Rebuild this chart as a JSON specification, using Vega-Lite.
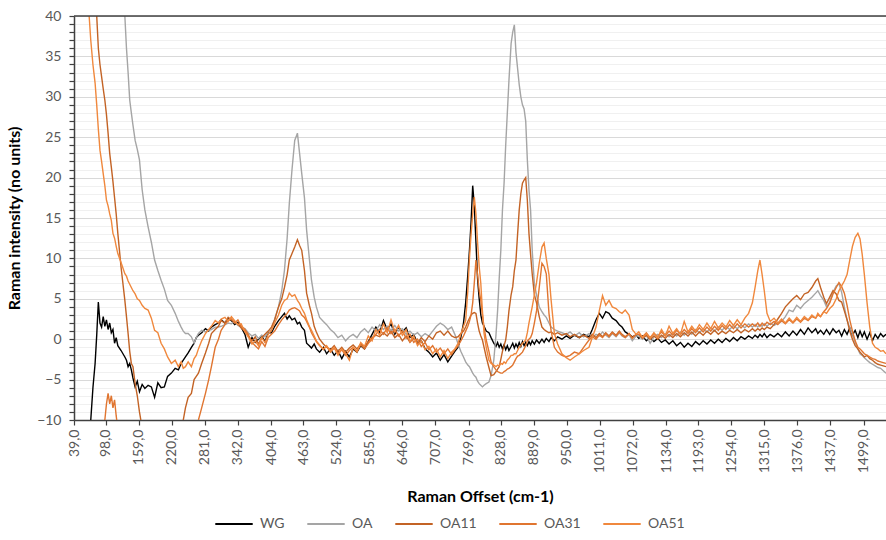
{
  "$schema": "https://vega.github.io/schema/vega-lite/v6.json",
  "width": 812,
  "height": 404,
  "autosize": {"type": "none"},
  "padding": {"left": 74, "top": 16, "right": 0, "bottom": 120},
  "background": "white",
  "config": {"font": "Lato", "view": {"stroke": null}, "axis": {"labelOverlap": false}},
  "resolve": {"axis": {"y": "independent"}},
  "layer": [
    {
      "data": {"values": [
{"x":39,"WG":-15,"OA":80,"OA11":60,"OA31":-15,"OA51":55},
{"x":50,"WG":-15,"OA":78,"OA11":58,"OA31":-15,"OA51":50},
{"x":60,"WG":-15,"OA":75,"OA11":55,"OA31":-15,"OA51":45},
{"x":66,"WG":-14,"OA":72,"OA11":52,"OA31":-14,"OA51":41},
{"x":70,"WG":-10,"OA":70,"OA11":48,"OA31":-13,"OA51":37},
{"x":74,"WG":-6,"OA":68,"OA11":45,"OA31":-13,"OA51":34},
{"x":78,"WG":-3,"OA":66,"OA11":42,"OA31":-13,"OA51":31.7},
{"x":81,"WG":0.5,"OA":64,"OA11":40,"OA31":-12,"OA51":29},
{"x":84,"WG":4.6,"OA":62,"OA11":36,"OA31":-12,"OA51":26},
{"x":87,"WG":2,"OA":61,"OA11":34,"OA31":-13,"OA51":23.4},
{"x":90,"WG":1.5,"OA":60,"OA11":32.5,"OA31":-12,"OA51":22},
{"x":93,"WG":2.8,"OA":59,"OA11":31,"OA31":-11,"OA51":20.5},
{"x":96,"WG":1.6,"OA":58,"OA11":29.6,"OA31":-10,"OA51":19},
{"x":99,"WG":2.4,"OA":57,"OA11":27.8,"OA31":-8,"OA51":17.2},
{"x":102,"WG":1.2,"OA":56,"OA11":25.5,"OA31":-6.7,"OA51":16.5},
{"x":105,"WG":2.0,"OA":55,"OA11":23,"OA31":-8,"OA51":15.5},
{"x":108,"WG":0.8,"OA":54,"OA11":21.3,"OA31":-7,"OA51":14.7},
{"x":111,"WG":1.2,"OA":53,"OA11":19.5,"OA31":-8.5,"OA51":13.1},
{"x":114,"WG":-0.5,"OA":52,"OA11":17.5,"OA31":-7.5,"OA51":12.5},
{"x":117,"WG":0.2,"OA":51,"OA11":15.5,"OA31":-9.5,"OA51":11.5},
{"x":120,"WG":-0.8,"OA":50,"OA11":13.1,"OA31":-11,"OA51":10.6},
{"x":126,"WG":-1.4,"OA":45,"OA11":8.9,"OA31":-14,"OA51":9.5},
{"x":133,"WG":-2.2,"OA":40,"OA11":4.8,"OA31":-14,"OA51":8.1},
{"x":136,"WG":-2.6,"OA":36,"OA11":2.8,"OA31":-14,"OA51":7.8},
{"x":139,"WG":-3.4,"OA":33,"OA11":0.7,"OA31":-14,"OA51":7.2},
{"x":142,"WG":-3,"OA":29.6,"OA11":-1.5,"OA31":-14,"OA51":6.8},
{"x":145,"WG":-3.8,"OA":28,"OA11":-3.0,"OA31":-14,"OA51":6.4},
{"x":148,"WG":-4.8,"OA":26.5,"OA11":-3.4,"OA31":-14,"OA51":6.0},
{"x":152,"WG":-5.9,"OA":24.6,"OA11":-5.5,"OA31":-14,"OA51":5.6},
{"x":156,"WG":-5.2,"OA":23.5,"OA11":-7,"OA31":-14,"OA51":5.0},
{"x":160,"WG":-6.5,"OA":22.2,"OA11":-9,"OA31":-14,"OA51":4.8},
{"x":165,"WG":-5.6,"OA":18.5,"OA11":-11,"OA31":-14,"OA51":4.2},
{"x":170,"WG":-6.1,"OA":16,"OA11":-13,"OA31":-14,"OA51":3.8},
{"x":176,"WG":-5.7,"OA":13.9,"OA11":-14,"OA31":-14,"OA51":3.6},
{"x":182,"WG":-5.9,"OA":12,"OA11":-14,"OA31":-14,"OA51":2.6},
{"x":188,"WG":-7.2,"OA":9.8,"OA11":-14,"OA31":-14,"OA51":1.1},
{"x":194,"WG":-5.4,"OA":8.5,"OA11":-14,"OA31":-14,"OA51":0.8},
{"x":200,"WG":-6.0,"OA":7.3,"OA11":-14,"OA31":-14,"OA51":-0.5},
{"x":206,"WG":-5.9,"OA":6.2,"OA11":-14,"OA31":-14,"OA51":-1.2},
{"x":212,"WG":-4.6,"OA":4.8,"OA11":-14,"OA31":-14,"OA51":-2.2},
{"x":219,"WG":-4.2,"OA":4.2,"OA11":-14,"OA31":-14,"OA51":-3.0},
{"x":226,"WG":-3.6,"OA":3.2,"OA11":-14,"OA31":-14,"OA51":-2.6},
{"x":232,"WG":-3.8,"OA":2.2,"OA11":-14,"OA31":-14,"OA51":-3.4},
{"x":237,"WG":-3.0,"OA":1.5,"OA11":-13,"OA31":-14,"OA51":-2.8},
{"x":241,"WG":-2.6,"OA":1.0,"OA11":-10,"OA31":-14,"OA51":-3.6},
{"x":245,"WG":-2.2,"OA":0.7,"OA11":-8.5,"OA31":-14,"OA51":-3.4},
{"x":250,"WG":-1.7,"OA":0.7,"OA11":-7.2,"OA31":-13,"OA51":-2.8},
{"x":256,"WG":-1.0,"OA":0.3,"OA11":-6.7,"OA31":-12,"OA51":-3.4},
{"x":261,"WG":-0.5,"OA":-0.5,"OA11":-5.0,"OA31":-11,"OA51":-2.4},
{"x":265,"WG":0.2,"OA":0.2,"OA11":-4.6,"OA31":-10.5,"OA51":-2.0},
{"x":269,"WG":0.5,"OA":0.7,"OA11":-4.2,"OA31":-10,"OA51":-1.2},
{"x":275,"WG":0.8,"OA":1.1,"OA11":-3.0,"OA31":-8.5,"OA51":-0.2},
{"x":282,"WG":1.3,"OA":0.9,"OA11":-1.7,"OA31":-6.7,"OA51":0.7},
{"x":288,"WG":1.0,"OA":1.1,"OA11":-0.5,"OA31":-5.0,"OA51":1.2},
{"x":293,"WG":1.5,"OA":1.2,"OA11":0.7,"OA31":-3.4,"OA51":1.6},
{"x":300,"WG":1.8,"OA":1.5,"OA11":1.2,"OA31":-1.0,"OA51":2.3},
{"x":306,"WG":2.0,"OA":1.5,"OA11":1.6,"OA31":0.0,"OA51":2.0},
{"x":311,"WG":2.4,"OA":1.6,"OA11":2.3,"OA31":1.1,"OA51":2.5},
{"x":318,"WG":2.0,"OA":1.8,"OA11":2.0,"OA31":1.8,"OA51":2.7},
{"x":324,"WG":2.6,"OA":2.0,"OA11":2.7,"OA31":2.3,"OA51":2.2},
{"x":330,"WG":2.3,"OA":1.9,"OA11":2.4,"OA31":2.5,"OA51":2.8},
{"x":336,"WG":1.8,"OA":2.2,"OA11":2.1,"OA31":2.0,"OA51":2.3},
{"x":342,"WG":2.1,"OA":1.7,"OA11":1.9,"OA31":2.4,"OA51":1.8},
{"x":348,"WG":1.5,"OA":1.5,"OA11":1.4,"OA31":1.6,"OA51":1.9},
{"x":355,"WG":0.6,"OA":1.3,"OA11":1.0,"OA31":1.2,"OA51":0.9},
{"x":361,"WG":-1.0,"OA":0.8,"OA11":0.4,"OA31":0.6,"OA51":0.3},
{"x":368,"WG":0.2,"OA":0.4,"OA11":-0.2,"OA31":-0.4,"OA51":-0.6},
{"x":374,"WG":-0.4,"OA":0.6,"OA11":0.3,"OA31":-0.8,"OA51":-0.2},
{"x":380,"WG":0.0,"OA":0.1,"OA11":-0.6,"OA31":-1.2,"OA51":-0.8},
{"x":386,"WG":0.4,"OA":0.5,"OA11":0.2,"OA31":-0.3,"OA51":0.2},
{"x":392,"WG":-0.3,"OA":0.3,"OA11":0.6,"OA31":-0.9,"OA51":-0.4},
{"x":398,"WG":0.8,"OA":0.9,"OA11":1.0,"OA31":0.2,"OA51":0.6},
{"x":404,"WG":0.8,"OA":1.2,"OA11":1.5,"OA31":0.6,"OA51":1.1},
{"x":410,"WG":1.6,"OA":2.5,"OA11":2.4,"OA31":1.0,"OA51":2.0},
{"x":417,"WG":2.3,"OA":4.0,"OA11":4.0,"OA31":1.8,"OA51":3.0},
{"x":423,"WG":2.8,"OA":6.0,"OA11":5.0,"OA31":2.4,"OA51":4.2},
{"x":428,"WG":3.2,"OA":8.5,"OA11":6.4,"OA31":2.8,"OA51":4.8},
{"x":433,"WG":2.5,"OA":12.5,"OA11":8.0,"OA31":3.2,"OA51":5.0},
{"x":437,"WG":2.9,"OA":16.8,"OA11":9.8,"OA31":3.6,"OA51":5.7},
{"x":442,"WG":2.4,"OA":21,"OA11":10.6,"OA31":3.8,"OA51":5.3},
{"x":447,"WG":2.6,"OA":24.6,"OA11":11.4,"OA31":3.9,"OA51":5.5},
{"x":452,"WG":1.9,"OA":25.5,"OA11":12.3,"OA31":3.7,"OA51":4.8},
{"x":456,"WG":2.1,"OA":23,"OA11":11.6,"OA31":3.5,"OA51":4.4},
{"x":460,"WG":1.5,"OA":20.5,"OA11":11.0,"OA31":3.0,"OA51":3.8},
{"x":465,"WG":1.1,"OA":17.5,"OA11":8.5,"OA31":2.7,"OA51":3.2},
{"x":469,"WG":-0.5,"OA":13.5,"OA11":5.7,"OA31":2.2,"OA51":2.4},
{"x":474,"WG":-0.8,"OA":10,"OA11":4.2,"OA31":1.5,"OA51":1.6},
{"x":478,"WG":-1.1,"OA":7.3,"OA11":3.2,"OA31":0.8,"OA51":1.1},
{"x":483,"WG":-0.6,"OA":5.2,"OA11":1.6,"OA31":0.2,"OA51":0.4},
{"x":487,"WG":-1.2,"OA":4.0,"OA11":0.9,"OA31":-0.3,"OA51":-0.2},
{"x":493,"WG":-1.6,"OA":2.7,"OA11":0.0,"OA31":-0.8,"OA51":-0.7},
{"x":500,"WG":-1.0,"OA":2.2,"OA11":-0.6,"OA31":-1.2,"OA51":-1.3},
{"x":506,"WG":-1.8,"OA":1.8,"OA11":-1.0,"OA31":-0.9,"OA51":-0.8},
{"x":513,"WG":-1.2,"OA":1.2,"OA11":-1.3,"OA31":-1.6,"OA51":-1.5},
{"x":520,"WG":-2.0,"OA":0.8,"OA11":-0.8,"OA31":-1.1,"OA51":-1.0},
{"x":527,"WG":-1.4,"OA":0.2,"OA11":-1.5,"OA31":-1.8,"OA51":-2.0},
{"x":534,"WG":-2.4,"OA":0.5,"OA11":-1.0,"OA31":-1.3,"OA51":-1.2},
{"x":541,"WG":-1.5,"OA":-0.2,"OA11":-1.6,"OA31":-2.0,"OA51":-1.8},
{"x":548,"WG":-2.2,"OA":0.3,"OA11":-1.1,"OA31":-1.4,"OA51":-2.6},
{"x":555,"WG":-1.2,"OA":0.6,"OA11":-0.7,"OA31":-1.0,"OA51":-1.0},
{"x":562,"WG":-1.6,"OA":0.2,"OA11":-1.2,"OA31":-1.5,"OA51":-1.6},
{"x":569,"WG":-0.8,"OA":0.9,"OA11":-0.6,"OA31":-0.7,"OA51":-0.4},
{"x":576,"WG":-1.2,"OA":1.3,"OA11":-0.9,"OA31":-1.2,"OA51":-0.9},
{"x":583,"WG":-0.3,"OA":0.8,"OA11":-0.3,"OA31":-0.5,"OA51":0.4},
{"x":590,"WG":0.6,"OA":1.5,"OA11":0.2,"OA31":0.0,"OA51":-0.2},
{"x":597,"WG":1.5,"OA":1.0,"OA11":0.5,"OA31":0.6,"OA51":1.2},
{"x":604,"WG":0.8,"OA":1.8,"OA11":0.3,"OA31":1.2,"OA51":0.5},
{"x":611,"WG":2.3,"OA":1.2,"OA11":0.8,"OA31":0.6,"OA51":1.9},
{"x":618,"WG":1.2,"OA":1.6,"OA11":0.4,"OA31":1.4,"OA51":0.8},
{"x":625,"WG":1.9,"OA":1.1,"OA11":1.0,"OA31":0.7,"OA51":2.4},
{"x":632,"WG":0.6,"OA":1.7,"OA11":0.2,"OA31":1.2,"OA51":0.9},
{"x":639,"WG":1.5,"OA":1.0,"OA11":0.6,"OA31":0.4,"OA51":1.7},
{"x":646,"WG":0.9,"OA":1.3,"OA11":-0.2,"OA31":1.0,"OA51":0.5},
{"x":653,"WG":1.4,"OA":0.6,"OA11":0.4,"OA31":0.1,"OA51":1.2},
{"x":660,"WG":0.2,"OA":1.0,"OA11":-0.4,"OA31":0.6,"OA51":-0.3},
{"x":667,"WG":0.6,"OA":0.5,"OA11":0.1,"OA31":-0.4,"OA51":0.4},
{"x":674,"WG":-0.5,"OA":0.8,"OA11":-0.5,"OA31":0.0,"OA51":-0.8},
{"x":681,"WG":-0.2,"OA":0.3,"OA11":0.2,"OA31":-0.9,"OA51":-0.2},
{"x":688,"WG":-1.2,"OA":0.7,"OA11":-0.3,"OA31":-0.4,"OA51":-1.3},
{"x":695,"WG":-1.6,"OA":0.4,"OA11":0.4,"OA31":-1.3,"OA51":-0.9},
{"x":702,"WG":-2.2,"OA":1.0,"OA11":0.0,"OA31":-0.8,"OA51":-1.8},
{"x":709,"WG":-1.7,"OA":1.6,"OA11":0.8,"OA31":-1.6,"OA51":-1.2},
{"x":716,"WG":-2.6,"OA":2.0,"OA11":1.0,"OA31":-1.1,"OA51":-2.2},
{"x":723,"WG":-1.9,"OA":1.7,"OA11":0.5,"OA31":-1.8,"OA51":-1.4},
{"x":730,"WG":-2.8,"OA":1.2,"OA11":1.0,"OA31":-1.2,"OA51":-2.4},
{"x":737,"WG":-2.1,"OA":1.5,"OA11":0.4,"OA31":-1.9,"OA51":-1.6},
{"x":743,"WG":-1.5,"OA":0.6,"OA11":0.2,"OA31":-1.3,"OA51":-1.2},
{"x":749,"WG":-1.0,"OA":-0.6,"OA11":0.3,"OA31":-0.8,"OA51":-0.5},
{"x":754,"WG":0.2,"OA":-1.5,"OA11":0.7,"OA31":-0.2,"OA51":0.6},
{"x":759,"WG":2.0,"OA":-2.2,"OA11":1.0,"OA31":0.4,"OA51":1.6},
{"x":763,"WG":4.5,"OA":-2.8,"OA11":1.5,"OA31":1.0,"OA51":2.3},
{"x":767,"WG":8.0,"OA":-3.2,"OA11":2.2,"OA31":1.6,"OA51":6.0},
{"x":770,"WG":11.0,"OA":-3.4,"OA11":2.6,"OA31":2.2,"OA51":10.0},
{"x":773,"WG":14.5,"OA":-3.8,"OA11":3.0,"OA31":3.0,"OA51":13.0},
{"x":776,"WG":19.0,"OA":-4.2,"OA11":3.2,"OA31":4.5,"OA51":15.5},
{"x":779,"WG":16.5,"OA":-4.5,"OA11":3.3,"OA31":7.0,"OA51":17.6},
{"x":782,"WG":12.0,"OA":-4.7,"OA11":3.2,"OA31":9.8,"OA51":15.5},
{"x":785,"WG":7.5,"OA":-5.2,"OA11":2.0,"OA31":8.0,"OA51":12.0},
{"x":788,"WG":5.0,"OA":-5.5,"OA11":1.0,"OA31":6.0,"OA51":9.0},
{"x":791,"WG":3.0,"OA":-5.7,"OA11":0.4,"OA31":4.8,"OA51":6.9},
{"x":794,"WG":2.0,"OA":-5.9,"OA11":-0.1,"OA31":3.0,"OA51":3.5},
{"x":797,"WG":1.6,"OA":-5.7,"OA11":-1.0,"OA31":1.5,"OA51":0.7},
{"x":801,"WG":1.0,"OA":-5.5,"OA11":-2.2,"OA31":-0.1,"OA51":-1.0},
{"x":806,"WG":0.8,"OA":-5.3,"OA11":-3.5,"OA31":-1.5,"OA51":-2.6},
{"x":810,"WG":0.2,"OA":-4.5,"OA11":-4.5,"OA31":-2.8,"OA51":-3.0},
{"x":815,"WG":-0.5,"OA":-2.6,"OA11":-4.4,"OA31":-3.4,"OA51":-3.2},
{"x":819,"WG":-0.9,"OA":0.5,"OA11":-4.0,"OA31":-3.8,"OA51":-3.4},
{"x":822,"WG":-0.4,"OA":3.5,"OA11":-3.7,"OA31":-4.0,"OA51":-3.2},
{"x":825,"WG":-1.0,"OA":7.5,"OA11":-3.4,"OA31":-4.1,"OA51":-3.3},
{"x":828,"WG":-0.6,"OA":11,"OA11":-2.5,"OA31":-4.2,"OA51":-3.0},
{"x":831,"WG":-1.2,"OA":16,"OA11":-1.5,"OA31":-4.2,"OA51":-3.1},
{"x":834,"WG":-0.7,"OA":19.3,"OA11":-0.8,"OA31":-4.0,"OA51":-2.8},
{"x":837,"WG":-1.3,"OA":24,"OA11":-0.1,"OA31":-3.9,"OA51":-3.0},
{"x":840,"WG":-0.8,"OA":28,"OA11":1.5,"OA31":-3.7,"OA51":-2.6},
{"x":843,"WG":-1.4,"OA":32,"OA11":3.5,"OA31":-3.6,"OA51":-2.4},
{"x":847,"WG":-0.9,"OA":36.6,"OA11":5.5,"OA31":-3.4,"OA51":-2.0},
{"x":850,"WG":-0.5,"OA":38,"OA11":6.5,"OA31":-3.2,"OA51":-2.0},
{"x":853,"WG":-1.1,"OA":38.9,"OA11":8.5,"OA31":-2.8,"OA51":-1.8},
{"x":856,"WG":-0.6,"OA":35.5,"OA11":9.8,"OA31":-2.4,"OA51":-1.8},
{"x":859,"WG":-1.0,"OA":33.5,"OA11":13,"OA31":-2.1,"OA51":-1.4},
{"x":862,"WG":-0.4,"OA":31.5,"OA11":16,"OA31":-2.0,"OA51":-1.0},
{"x":865,"WG":-0.9,"OA":30,"OA11":18,"OA31":-1.8,"OA51":-0.8},
{"x":868,"WG":-0.3,"OA":29,"OA11":19.3,"OA31":-1.6,"OA51":-0.5},
{"x":871,"WG":-0.8,"OA":28.5,"OA11":19.7,"OA31":-1.2,"OA51":-0.3},
{"x":874,"WG":-0.4,"OA":27,"OA11":20,"OA31":-0.8,"OA51":-0.1},
{"x":877,"WG":-0.8,"OA":22.2,"OA11":17.2,"OA31":-0.2,"OA51":0.8},
{"x":880,"WG":-0.3,"OA":18.5,"OA11":13.1,"OA31":0.0,"OA51":2.0},
{"x":883,"WG":-0.7,"OA":16,"OA11":10.5,"OA31":0.2,"OA51":3.0},
{"x":886,"WG":-0.2,"OA":11,"OA11":8.1,"OA31":0.7,"OA51":4.0},
{"x":890,"WG":-0.6,"OA":6.9,"OA11":5.5,"OA31":2.0,"OA51":5.5},
{"x":894,"WG":-0.1,"OA":5.5,"OA11":4.5,"OA31":3.5,"OA51":7.0},
{"x":899,"WG":-0.5,"OA":4.0,"OA11":2.8,"OA31":6.4,"OA51":9.4},
{"x":904,"WG":0.0,"OA":3.4,"OA11":1.5,"OA31":9.4,"OA51":11.4},
{"x":908,"WG":-0.4,"OA":3.0,"OA11":1.2,"OA31":9.0,"OA51":11.9},
{"x":912,"WG":0.1,"OA":2.7,"OA11":1.0,"OA31":8.1,"OA51":10.0},
{"x":917,"WG":-0.3,"OA":2.0,"OA11":0.8,"OA31":3.2,"OA51":8.0},
{"x":921,"WG":0.2,"OA":1.5,"OA11":0.9,"OA31":1.0,"OA51":4.8},
{"x":927,"WG":-0.2,"OA":1.2,"OA11":0.6,"OA31":-1.0,"OA51":0.7},
{"x":933,"WG":0.3,"OA":1.0,"OA11":0.8,"OA31":-1.6,"OA51":-0.6},
{"x":941,"WG":0.0,"OA":0.8,"OA11":0.5,"OA31":-2.0,"OA51":-1.8},
{"x":949,"WG":0.4,"OA":0.6,"OA11":0.7,"OA31":-2.2,"OA51":-2.3},
{"x":956,"WG":0.1,"OA":0.9,"OA11":0.3,"OA31":-2.0,"OA51":-2.6},
{"x":964,"WG":0.5,"OA":0.4,"OA11":0.6,"OA31":-1.6,"OA51":-2.2},
{"x":973,"WG":0.2,"OA":0.8,"OA11":0.2,"OA31":-1.8,"OA51":-1.8},
{"x":981,"WG":0.6,"OA":0.3,"OA11":0.5,"OA31":-1.0,"OA51":-1.4},
{"x":991,"WG":0.3,"OA":0.7,"OA11":0.1,"OA31":-0.1,"OA51":-1.0},
{"x":997,"WG":1.2,"OA":0.2,"OA11":0.6,"OA31":0.3,"OA51":0.2},
{"x":1004,"WG":2.4,"OA":0.6,"OA11":0.2,"OA31":0.0,"OA51":1.5},
{"x":1010,"WG":3.2,"OA":0.4,"OA11":0.7,"OA31":0.5,"OA51":3.5},
{"x":1016,"WG":2.6,"OA":0.9,"OA11":0.3,"OA31":0.2,"OA51":5.4},
{"x":1022,"WG":3.4,"OA":0.5,"OA11":0.8,"OA31":0.7,"OA51":4.2},
{"x":1028,"WG":3.2,"OA":0.2,"OA11":0.4,"OA31":0.3,"OA51":4.8},
{"x":1034,"WG":2.6,"OA":0.7,"OA11":0.9,"OA31":0.8,"OA51":4.0},
{"x":1041,"WG":2.3,"OA":0.3,"OA11":0.5,"OA31":0.4,"OA51":3.8},
{"x":1047,"WG":1.8,"OA":0.8,"OA11":1.0,"OA31":0.9,"OA51":3.4},
{"x":1052,"WG":1.5,"OA":0.4,"OA11":0.6,"OA31":0.5,"OA51":3.2},
{"x":1058,"WG":0.9,"OA":0.2,"OA11":0.3,"OA31":0.2,"OA51":3.6},
{"x":1065,"WG":0.6,"OA":0.6,"OA11":0.7,"OA31":0.7,"OA51":3.0},
{"x":1071,"WG":0.3,"OA":-0.2,"OA11":0.2,"OA31":0.1,"OA51":1.2},
{"x":1078,"WG":0.5,"OA":0.4,"OA11":0.6,"OA31":0.6,"OA51":0.6},
{"x":1083,"WG":0.1,"OA":0.4,"OA11":0.6,"OA31":0.6,"OA51":0.9},
{"x":1090,"WG":0.4,"OA":0.0,"OA11":0.1,"OA31":0.3,"OA51":0.2},
{"x":1097,"WG":-0.2,"OA":0.5,"OA11":0.5,"OA31":0.8,"OA51":0.7},
{"x":1104,"WG":0.2,"OA":-0.5,"OA11":0.0,"OA31":0.2,"OA51":0.1},
{"x":1111,"WG":-0.3,"OA":0.3,"OA11":0.4,"OA31":0.7,"OA51":0.8},
{"x":1118,"WG":0.1,"OA":0.6,"OA11":0.0,"OA31":0.3,"OA51":0.2},
{"x":1125,"WG":-0.4,"OA":0.2,"OA11":0.5,"OA31":0.9,"OA51":1.2},
{"x":1132,"WG":-0.1,"OA":0.7,"OA11":0.1,"OA31":0.4,"OA51":0.4},
{"x":1139,"WG":-0.6,"OA":0.3,"OA11":0.6,"OA31":1.0,"OA51":1.6},
{"x":1146,"WG":-0.2,"OA":0.8,"OA11":0.2,"OA31":0.5,"OA51":0.7},
{"x":1153,"WG":-0.8,"OA":0.4,"OA11":0.7,"OA31":1.1,"OA51":1.3},
{"x":1160,"WG":-0.4,"OA":0.9,"OA11":0.3,"OA31":0.6,"OA51":0.6},
{"x":1167,"WG":-1.0,"OA":0.5,"OA11":0.8,"OA31":1.2,"OA51":2.2},
{"x":1174,"WG":-0.5,"OA":1.0,"OA11":0.4,"OA31":0.7,"OA51":0.9},
{"x":1181,"WG":-0.9,"OA":0.6,"OA11":0.9,"OA31":1.3,"OA51":1.6},
{"x":1188,"WG":-0.3,"OA":1.2,"OA11":0.4,"OA31":0.8,"OA51":1.0},
{"x":1195,"WG":-0.7,"OA":0.8,"OA11":0.9,"OA31":1.4,"OA51":1.8},
{"x":1202,"WG":-0.2,"OA":1.3,"OA11":0.5,"OA31":0.9,"OA51":1.2},
{"x":1209,"WG":-0.6,"OA":0.9,"OA11":1.0,"OA31":1.5,"OA51":2.0},
{"x":1216,"WG":-0.1,"OA":1.4,"OA11":0.6,"OA31":1.0,"OA51":1.3},
{"x":1223,"WG":-0.5,"OA":1.0,"OA11":1.1,"OA31":1.6,"OA51":2.2},
{"x":1230,"WG":0.0,"OA":1.5,"OA11":0.6,"OA31":1.1,"OA51":1.4},
{"x":1237,"WG":-0.4,"OA":1.1,"OA11":1.0,"OA31":1.7,"OA51":2.0},
{"x":1244,"WG":0.1,"OA":1.6,"OA11":0.7,"OA31":1.2,"OA51":1.5},
{"x":1251,"WG":-0.3,"OA":1.2,"OA11":1.1,"OA31":1.8,"OA51":2.3},
{"x":1258,"WG":0.2,"OA":1.7,"OA11":0.8,"OA31":1.3,"OA51":1.7},
{"x":1265,"WG":-0.2,"OA":1.3,"OA11":1.2,"OA31":1.9,"OA51":2.4},
{"x":1272,"WG":0.3,"OA":1.8,"OA11":0.8,"OA31":1.4,"OA51":1.8},
{"x":1279,"WG":0.0,"OA":1.4,"OA11":1.2,"OA31":1.9,"OA51":2.6},
{"x":1286,"WG":0.4,"OA":1.9,"OA11":0.9,"OA31":1.5,"OA51":3.2},
{"x":1293,"WG":0.1,"OA":1.5,"OA11":1.3,"OA31":1.9,"OA51":4.5},
{"x":1298,"WG":0.5,"OA":1.8,"OA11":1.0,"OA31":1.6,"OA51":6.4},
{"x":1303,"WG":0.2,"OA":1.5,"OA11":1.3,"OA31":2.0,"OA51":8.5},
{"x":1307,"WG":0.6,"OA":1.8,"OA11":1.1,"OA31":1.6,"OA51":9.8},
{"x":1311,"WG":0.3,"OA":1.6,"OA11":1.4,"OA31":2.0,"OA51":8.0},
{"x":1315,"WG":0.7,"OA":1.9,"OA11":1.2,"OA31":1.7,"OA51":6.0},
{"x":1320,"WG":0.2,"OA":1.6,"OA11":1.5,"OA31":2.1,"OA51":3.2},
{"x":1326,"WG":0.6,"OA":2.0,"OA11":1.3,"OA31":1.8,"OA51":2.2},
{"x":1333,"WG":0.3,"OA":1.7,"OA11":1.8,"OA31":2.2,"OA51":2.6},
{"x":1340,"WG":0.7,"OA":2.0,"OA11":2.5,"OA31":1.8,"OA51":2.0},
{"x":1347,"WG":0.3,"OA":2.2,"OA11":3.2,"OA31":2.3,"OA51":2.5},
{"x":1354,"WG":0.9,"OA":2.8,"OA11":4.0,"OA31":1.9,"OA51":2.0},
{"x":1361,"WG":0.4,"OA":3.6,"OA11":4.5,"OA31":2.4,"OA51":2.6},
{"x":1368,"WG":1.0,"OA":3.4,"OA11":5.0,"OA31":2.0,"OA51":2.1},
{"x":1375,"WG":0.5,"OA":4.2,"OA11":5.4,"OA31":2.5,"OA51":2.7},
{"x":1382,"WG":1.2,"OA":3.8,"OA11":4.9,"OA31":2.1,"OA51":2.2},
{"x":1389,"WG":0.6,"OA":4.4,"OA11":5.6,"OA31":2.6,"OA51":2.8},
{"x":1396,"WG":1.4,"OA":4.8,"OA11":5.8,"OA31":2.3,"OA51":2.4},
{"x":1403,"WG":0.8,"OA":5.2,"OA11":6.4,"OA31":2.8,"OA51":3.0},
{"x":1410,"WG":1.3,"OA":5.7,"OA11":7.2,"OA31":2.6,"OA51":2.6},
{"x":1414,"WG":0.7,"OA":6.0,"OA11":7.5,"OA31":3.0,"OA51":3.2},
{"x":1419,"WG":1.1,"OA":5.4,"OA11":6.4,"OA31":2.8,"OA51":2.8},
{"x":1425,"WG":0.6,"OA":4.8,"OA11":5.2,"OA31":3.4,"OA51":3.4},
{"x":1430,"WG":1.2,"OA":4.0,"OA11":4.4,"OA31":3.8,"OA51":3.2},
{"x":1436,"WG":0.6,"OA":4.6,"OA11":5.2,"OA31":4.5,"OA51":3.8},
{"x":1442,"WG":1.3,"OA":5.8,"OA11":6.0,"OA31":5.6,"OA51":4.2},
{"x":1448,"WG":0.8,"OA":6.6,"OA11":5.6,"OA31":6.4,"OA51":5.0},
{"x":1453,"WG":1.1,"OA":6.9,"OA11":4.8,"OA31":7.0,"OA51":6.0},
{"x":1458,"WG":0.4,"OA":5.8,"OA11":4.6,"OA31":6.5,"OA51":6.6},
{"x":1463,"WG":1.2,"OA":4.0,"OA11":3.5,"OA31":5.7,"OA51":7.2},
{"x":1468,"WG":0.6,"OA":2.4,"OA11":2.4,"OA31":4.2,"OA51":8.0},
{"x":1473,"WG":1.4,"OA":1.4,"OA11":1.0,"OA31":2.4,"OA51":9.8},
{"x":1478,"WG":0.5,"OA":0.6,"OA11":0.0,"OA31":1.0,"OA51":11.5},
{"x":1483,"WG":1.1,"OA":-0.4,"OA11":-0.8,"OA31":-0.2,"OA51":12.6},
{"x":1488,"WG":0.2,"OA":-1.2,"OA11":-1.2,"OA31":-1.0,"OA51":13.1},
{"x":1492,"WG":1.0,"OA":-1.8,"OA11":-1.6,"OA31":-1.2,"OA51":12.4},
{"x":1496,"WG":0.3,"OA":-2.0,"OA11":-1.9,"OA31":-1.5,"OA51":10.5},
{"x":1500,"WG":0.9,"OA":-2.3,"OA11":-2.2,"OA31":-1.8,"OA51":8.0},
{"x":1505,"WG":0.0,"OA":-2.6,"OA11":-2.0,"OA31":-2.0,"OA51":4.5},
{"x":1510,"WG":0.8,"OA":-2.9,"OA11":-2.4,"OA31":-2.2,"OA51":1.5},
{"x":1515,"WG":-0.2,"OA":-3.1,"OA11":-2.6,"OA31":-2.4,"OA51":-0.5},
{"x":1520,"WG":0.6,"OA":-3.3,"OA11":-2.9,"OA31":-2.5,"OA51":-1.0},
{"x":1525,"WG":0.1,"OA":-3.5,"OA11":-3.1,"OA31":-2.7,"OA51":-1.2},
{"x":1530,"WG":0.7,"OA":-3.6,"OA11":-3.2,"OA31":-2.8,"OA51":-1.5},
{"x":1535,"WG":0.3,"OA":-3.9,"OA11":-3.3,"OA31":-2.9,"OA51":-1.4},
{"x":1540,"WG":0.6,"OA":-4.2,"OA11":-3.4,"OA31":-3.0,"OA51":-1.8}
      ]},
      "transform": [{"fold": ["WG", "OA", "OA11", "OA31", "OA51"], "as": ["series", "value"]}],
      "mark": {"type": "line", "strokeWidth": 1.4, "clip": true},
      "encoding": {
        "x": {
          "field": "x", "type": "quantitative",
          "scale": {"domain": [39, 1540], "nice": false, "zero": false},
          "axis": {
            "title": "Raman Offset (cm-1)",
            "values": [39, 98, 159, 220, 281, 342, 404, 463, 524, 585, 646, 707, 769, 828, 889, 950, 1011, 1072, 1134, 1193, 1254, 1315, 1376, 1437, 1499],
            "labelExpr": "replace(format(datum.value, '.1f'), '.', ',')",
            "labelAngle": -90, "labelAlign": "right", "labelBaseline": "middle",
            "grid": false, "tickSize": 5, "tickColor": "#404040", "tickWidth": 1.2,
            "domainColor": "#404040", "domainWidth": 1.5,
            "labelColor": "#595959", "labelFontSize": 14, "labelPadding": 4,
            "labelOverlap": false, "labelFlush": false,
            "titleFontSize": 16, "titleFontWeight": "bold", "titleColor": "#000000", "titlePadding": 16
          }
        },
        "y": {
          "field": "value", "type": "quantitative",
          "scale": {"domain": [-10, 40], "nice": false, "zero": false},
          "axis": {
            "title": "Raman intensity (no units)",
            "values": [-10,-9,-8,-7,-6,-5,-4,-3,-2,-1,0,1,2,3,4,5,6,7,8,9,10,11,12,13,14,15,16,17,18,19,20,21,22,23,24,25,26,27,28,29,30,31,32,33,34,35,36,37,38,39,40],
            "labelExpr": "datum.value % 5 === 0 ? datum.label : ''",
            "labelOverlap": false,
            "grid": true,
            "gridColor": {"condition": {"test": "datum.value % 5 === 0", "value": "#d9d9d9"}, "value": "#f0f0f0"},
            "gridWidth": 1.2,
            "tickSize": 5, "tickColor": "#404040", "tickWidth": 1.2,
            "domainColor": "#404040", "domainWidth": 1.5,
            "labelColor": "#595959", "labelFontSize": 14, "labelPadding": 8,
            "titleFontSize": 16, "titleFontWeight": "bold", "titleColor": "#000000", "titlePadding": 14
          }
        },
        "color": {
          "field": "series", "type": "nominal",
          "scale": {"domain": ["WG", "OA", "OA11", "OA31", "OA51"], "range": ["#000000", "#a5a5a5", "#c36325", "#e07530", "#f0883d"]},
          "legend": {
            "orient": "none", "legendX": 140, "legendY": 488, "direction": "horizontal",
            "title": null, "symbolType": "stroke", "symbolSize": 1400, "symbolStrokeWidth": 2,
            "labelFontSize": 14, "labelColor": "#595959", "labelOffset": 6, "columnPadding": 18
          }
        }
      }
    },
    {
      "data": {"values": [{"top": 40}]},
      "mark": {"type": "rule", "color": "#404040", "strokeWidth": 1.5},
      "encoding": {"y": {"field": "top", "type": "quantitative", "axis": null}}
    }
  ]
}
